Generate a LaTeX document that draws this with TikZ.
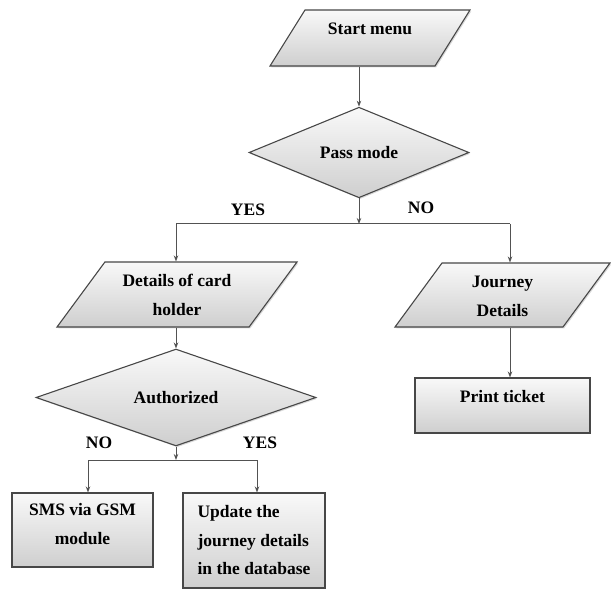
\documentclass[tikz,border=0pt]{standalone}
\usepackage{fontspec}
\setmainfont{Liberation Serif}
\usetikzlibrary{shapes.geometric,arrows.meta,shadows}
\begin{document}
\begin{tikzpicture}[x=1pt,y=-1pt,
  shapebase/.style={draw=black!72, line width=1.1pt, top color=gray!5, bottom color=gray!38,
    font=\fontsize{17.5}{28.5}\selectfont\bfseries, inner sep=0pt, align=center,
    drop shadow={opacity=0.3,shadow xshift=1.3pt,shadow yshift=-1.3pt}},
  iobox/.style={shapebase, trapezium, trapezium stretches body},
  decision/.style={shapebase, diamond},
  procbox/.style={shapebase, rectangle},
  lbl/.style={font=\fontsize{17.5}{20}\selectfont\bfseries, inner sep=0pt},
  conn/.style={draw=black!68, line width=1pt},
  arr/.style={conn, -{Stealth[length=6pt,width=4.5pt]}}
]
\useasboundingbox (0,0) rectangle (611,591);

% nodes
\node[iobox, trapezium left angle=58, trapezium right angle=122, minimum width=200pt, minimum height=56pt, text height=25pt, text depth=31pt] (start) at (370,38) {Start menu};
\node[decision, minimum width=220pt, minimum height=69pt] (pass) at (359,152.5) {Pass mode};
\node[iobox, trapezium left angle=53.6, trapezium right angle=126.4, minimum width=240pt, minimum height=65pt, text height=53pt, text depth=12pt] (details) at (177,294.5) {Details of card\\holder};
\node[iobox, trapezium left angle=53.7, trapezium right angle=126.3, minimum width=215pt, minimum height=64pt, text height=53pt, text depth=11pt] (journey) at (502.5,295) {Journey\\Details};
\node[decision, minimum width=280pt, minimum height=71pt] (auth) at (176,397.5) {Authorized};
\node[procbox, minimum width=175pt, minimum height=55pt, text height=12pt, text depth=18pt] (print) at (502.5,405.5) {Print ticket};
\node[procbox, minimum width=141pt, minimum height=74pt, text height=44pt, text depth=16pt] (sms) at (82.5,530) {SMS via GSM\\module};
\node[procbox, minimum width=142pt, minimum height=95pt, align=left] (upd) at (254,540.5) {Update the\\journey details\\in the database};

% labels
\node[lbl] (yes1) at (248,210) {YES};
\node[lbl] (no1) at (421,208) {NO};
\node[lbl] (no2) at (99,443) {NO};
\node[lbl] (yes2) at (260,443) {YES};

% junctions
\coordinate (jP) at (359,224);
\coordinate (jL) at (176,224);
\coordinate (jR) at (510,224);
\coordinate (jA) at (176,460);
\coordinate (jAL) at (88,460);
\coordinate (jAR) at (257,460);

% connectors
\draw[arr] (pass.north |- start.south) -- (pass.north);
\draw[arr] (pass.south) -- (jP);
\draw[conn] (jL) -- (jR);
\draw[arr] (jL) -- (jL |- details.north);
\draw[arr] (jR) -- (jR |- journey.north);
\draw[arr] (auth.north |- details.south) -- (auth.north);
\draw[arr] (jR |- journey.south) -- (jR |- print.north);
\draw[arr] (auth.south) -- (jA);
\draw[conn] (jAL) -- (jAR);
\draw[arr] (jAL) -- (jAL |- sms.north);
\draw[arr] (jAR) -- (jAR |- upd.north);
\end{tikzpicture}
\end{document}
